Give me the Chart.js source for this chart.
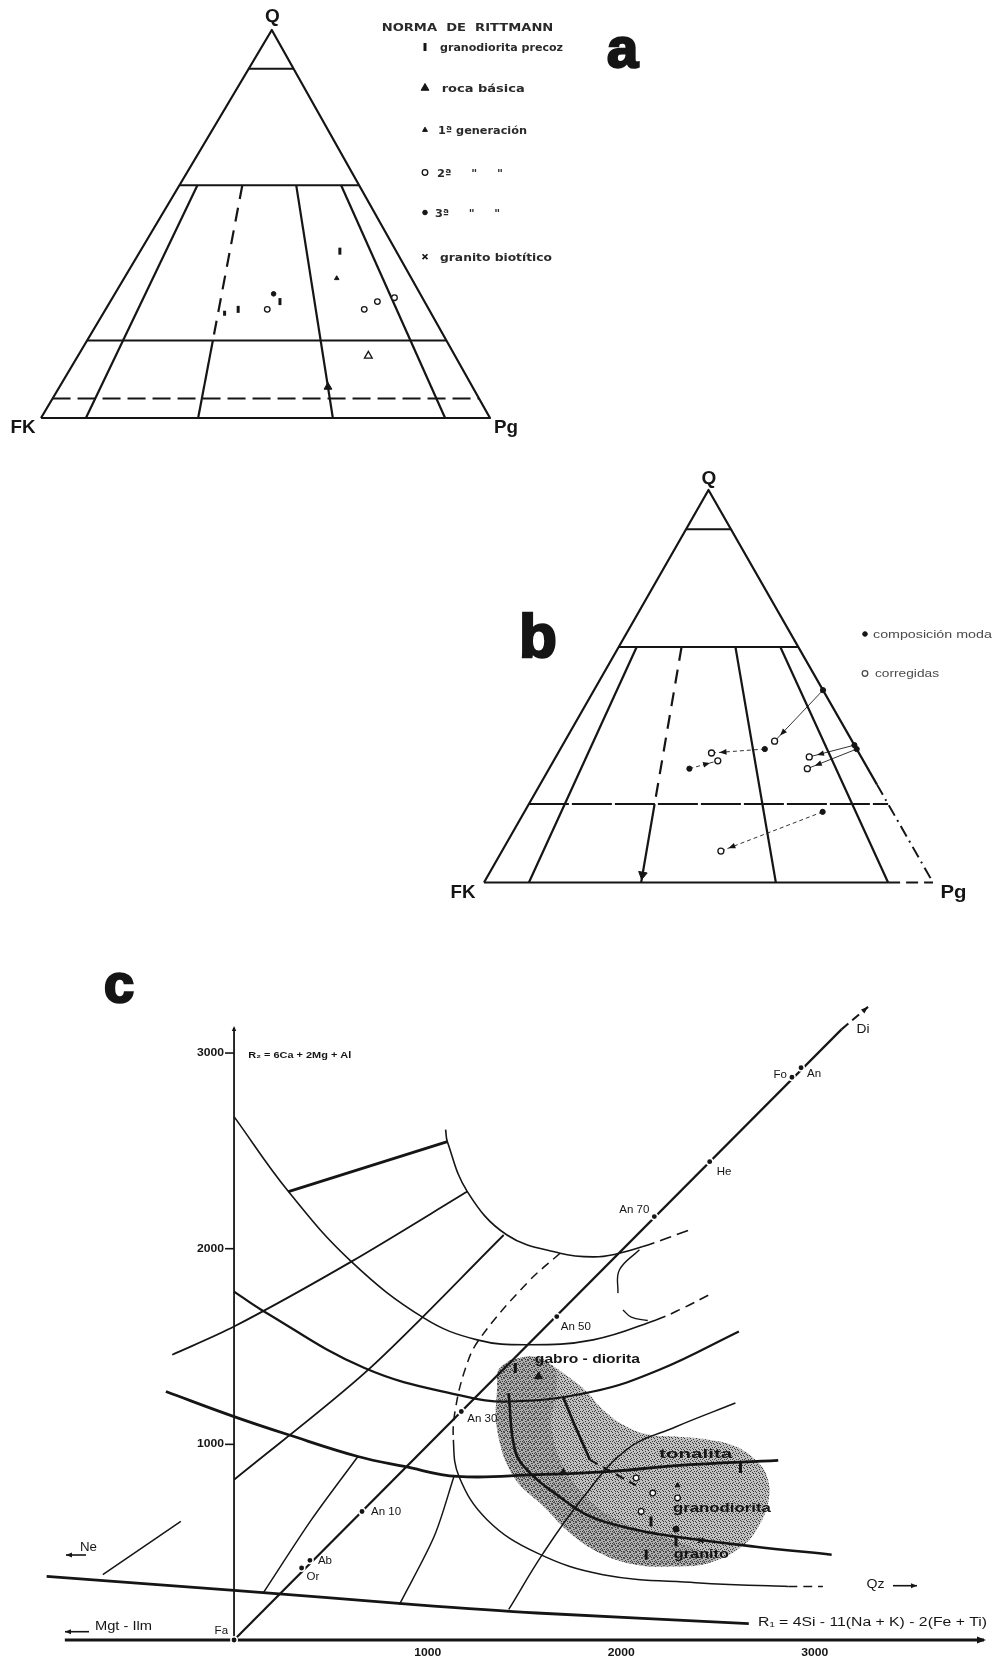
<!DOCTYPE html>
<html lang="es">
<head>
<meta charset="utf-8">
<title>Diagramas Q-FK-Pg y R1-R2</title>
<script src="https://cdn.jsdelivr.net/npm/chart.js@4.4.1/dist/chart.umd.min.js"></script>
<style>
  html, body { margin:0; padding:0; background:#fff; }
  body { position:relative; width:992px; height:1662px; overflow:hidden; }
  canvas { position:absolute; display:block; }
</style>
</head>
<body>
<canvas id="chartA" width="680" height="460" style="left:0;top:0;width:680px;height:460px"></canvas>
<canvas id="chartB" width="572" height="480" style="left:420px;top:440px;width:572px;height:480px"></canvas>
<canvas id="chartC" width="992" height="722" style="left:0;top:940px;width:992px;height:722px"></canvas>
<script>
// ================= DATA =================
// Ternary panels (a, b): every point is [Q %, Pg/(FK+Pg) %]
const qLevels = [90, 60, 20];
const qLevelsDashedA = [5];
const pRatios = [10, 35, 65, 90];
const pRatiosTopQ = 60;
const pRatiosDashedAbove = [35];
const pBreakQ = 20;

const aLegendTitle = 'NORMA  DE  RITTMANN';
const aLegendLabels = ['granodiorita precoz', 'roca básica', '1ª generación', '2ª     "     "', '3ª     "     "', 'granito biotítico'];
const aGranodioritaPrecoz = [[27,37],[28,41],[30,54],[43,78]];
const aRocaBasica = [[8,65]];
const aPrimeraGen = [[36,74],[16,77]];
const aSegundaGen = [[28,50],[28,80],[30,85],[31,91]];
const aTerceraGen = [[32,52]];

const bLegendLabels = ['composición modal', 'corregidas'];
const bComposicion = [[49,100],[34,69],[29,44],[35,100],[34,100],[18,81]];
const bCorregida   = [[36,73],[33,51],[31,53],[32,83],[29,81],[8,53]];

// Panel c: R1 (x) – R2 (y)
const cXTicks = [1000, 2000, 3000];
const cYTicks = [1000, 2000, 3000];
const cFaDiNames = ['Fa','Or','Ab','An 10','An 30','An 50','An 70','He','Fo','An'];
const cFaDiR1 = [0, 349, 392, 661, 1174, 1667, 2171, 2457, 2882, 2929];
const cFaDiR2 = [0, 368, 407, 657, 1168, 1653, 2164, 2445, 2876, 2925];
const cFaDiLine = [[0,0],[3138,3121]];
const cDiArrow = [[3138,3121],[3275,3236]];
const cAxisX = [[-874,0],[3874,0]];
const cAxisY = [[0,0],[0,3128]];
const cCurveA = [[0,2675],[281,2292],[606,1934],[982,1645],[1256,1534],[1513,1509],[1855,1534],[2180,1636],[2308,1691],[2471,1773]];
const cCurveB = [[1093,2608],[1102,2547],[1205,2292],[1410,2070],[1684,1977],[1857,1958],[1975,1973],[2112,2011],[2351,2095]];
const cLineS = [[281,2292],[1102,2547]];
const cLineD = [[-319,1458],[0,1602],[606,1934],[1205,2292]];
const cCurveC = [[0,1781],[142,1687],[674,1390],[1169,1250],[1427,1219],[1855,1270],[2197,1381],[2608,1577]];
const cLineF = [[0,819],[691,1379],[1393,2070]];
const cCurveK = [[-352,1270],[0,1142],[281,1049],[640,938],[880,887],[1153,836],[1564,845],[1950,862],[2283,891],[2811,918]];
const cCurveP = [[1418,1262],[1453,964],[1530,853],[1667,743],[1838,632],[2077,564],[2283,528],[2694,477],[3087,436]];
const cLineT2 = [[1701,1238],[1759,1100],[1838,921]];
const cDashTonalita = [[1838,921],[2077,790]];
const cCurveQ = [[1684,1977],[1513,1824],[1265,1534],[1196,1390],[1143,1177],[1133,1023],[1162,836],[1307,615],[1564,445],[1906,334],[2385,293],[2863,274],[3042,273]];
const cLineM = [[1419,156],[1598,445],[1795,718],[2026,972],[2283,1090],[2590,1211]];
const cLineI1 = [[152,242],[400,615],[640,938]];
const cLineI2 = [[854,181],[1034,530],[1136,836]];
const cLineN = [[-678,334],[-275,606]];
const cLineL0 = [[-968,325],[0,254],[931,181],[1564,138],[2659,84]];
const cHook1 = [[2094,1995],[1990,1890],[1983,1773]];
const cHook2 = [[2009,1687],[2052,1650],[2137,1633]];
const cShade = [[1427,1431],[1547,1449],[1650,1398],[1735,1339],[1821,1270],[1906,1177],[2026,1091],[2146,1049],[2283,1040],[2454,1023],[2591,989],[2693,921],[2753,836],[2762,717],[2710,581],[2625,479],[2454,394],[2283,376],[2077,385],[1889,445],[1735,547],[1598,683],[1444,836],[1359,1075],[1359,1296],[1367,1381],[1427,1431]];
const cShadeDense = [[1427,1431],[1547,1449],[1650,1398],[1667,1300],[1641,1074],[1744,819],[1975,614],[2334,486],[2488,419],[2454,394],[2283,376],[2077,385],[1889,445],[1735,547],[1598,683],[1444,836],[1359,1075],[1359,1296],[1367,1381],[1427,1431]];
const cGranodioritaPrecoz = [[1453,1390],[2154,606],[2283,504],[2129,436],[2616,879]];
const cRocaBasica = [[1573,1347]];
const cPrimeraGen = [[1701,862],[2291,790]];
const cSegundaGen = [[2077,828],[2163,751],[2291,726],[2103,657]];
const cTerceraGen = [[2283,567]];
const cGranitoBiotitico = [[2411,509]];
const cRegionNames = ['gabro - diorita', 'tonalita', 'granodiorita', 'granito'];

// ================= STYLE / HELPERS =================
const INK = '#151515';
const FONT = '"Liberation Sans", Arial, sans-serif';
const COND = '"DejaVu Sans Condensed", "DejaVu Sans", sans-serif';
const A_AX = 0.514, B_AX = 0.5;

const MK = {
  granodiorita: {pointStyle:'line', rotation:90, pointRadius:4, pointBorderWidth:3, pointBorderColor:INK, pointBackgroundColor:INK},
  basica:       {pointStyle:'triangle', rotation:0, pointRadius:4.5, pointBorderWidth:1, pointBorderColor:INK, pointBackgroundColor:INK},
  gen1:         {pointStyle:'triangle', rotation:0, pointRadius:2.8, pointBorderWidth:1, pointBorderColor:INK, pointBackgroundColor:INK},
  gen2:         {pointStyle:'circle', rotation:0, pointRadius:2.8, pointBorderWidth:1.3, pointBorderColor:INK, pointBackgroundColor:'#fff'},
  gen3:         {pointStyle:'circle', rotation:0, pointRadius:2.3, pointBorderWidth:1, pointBorderColor:INK, pointBackgroundColor:INK},
  granito:      {pointStyle:'crossRot', rotation:0, pointRadius:3.5, pointBorderWidth:1.6, pointBorderColor:INK, pointBackgroundColor:INK}
};
const aLegendMarkers = [MK.granodiorita, MK.basica, MK.gen1, MK.gen2, MK.gen3, MK.granito];

function tern(ax) { return ([q, p]) => ({x: (1 - q/100) * (p/100) + (q/100) * ax, y: q/100}); }
const XY = ([a, b]) => ({x: a, y: b});

function lineDS(points, conv, w, extra) {
  return Object.assign({data: points.map(conv), showLine:true, fill:false, pointRadius:0, pointHoverRadius:0,
    borderColor:INK, borderWidth:w, clip:false, order:5, borderCapStyle:'butt', borderJoinStyle:'round'}, extra || {});
}
function markDS(points, conv, style, extra) {
  return Object.assign({data: points.map(conv), showLine:false, pointHoverRadius:0, clip:false, order:1}, style, extra || {});
}
function dashSegs(idx, pattern) {
  return {segment: {borderDash: c => idx.includes(c.p0DataIndex) ? pattern : undefined}};
}
function fitText(ctx, text, x, y, w, align) {
  const m = ctx.measureText(text).width;
  const s = w ? w / m : 1;
  ctx.save(); ctx.translate(x, y); ctx.scale(s, 1); ctx.textAlign = 'left';
  let ox = 0; if (align === 'center') ox = -m/2; else if (align === 'right') ox = -m;
  ctx.fillText(text, ox, 0); ctx.restore();
}
function drawMarker(ctx, st, x, y) {
  ctx.save();
  ctx.fillStyle = st.pointBackgroundColor; ctx.strokeStyle = st.pointBorderColor; ctx.lineWidth = st.pointBorderWidth;
  Chart.helpers.drawPoint(ctx, {pointStyle: st.pointStyle, rotation: st.rotation || 0, radius: st.pointRadius, borderWidth: st.pointBorderWidth}, x, y);
  ctx.restore();
}
function arrowHead(ctx, x0, y0, x1, y1, len, half) {
  const dx = x1 - x0, dy = y1 - y0, L = Math.hypot(dx, dy) || 1, ux = dx/L, uy = dy/L;
  ctx.beginPath(); ctx.moveTo(x1, y1);
  ctx.lineTo(x1 - ux*len - uy*half, y1 - uy*len + ux*half);
  ctx.lineTo(x1 - ux*len + uy*half, y1 - uy*len - ux*half);
  ctx.closePath(); ctx.fill();
}
function baseOptions(pad, xr, yr) {
  return {
    responsive:false, maintainAspectRatio:false, animation:false, devicePixelRatio:1, events:[],
    layout:{padding:pad},
    plugins:{legend:{display:false}, tooltip:{enabled:false}, title:{display:false}},
    scales:{
      x:{type:'linear', min:xr[0], max:xr[1], display:false},
      y:{type:'linear', min:yr[0], max:yr[1], display:false}
    }
  };
}

// ---------- ternary frame ----------
function ternaryFrame(ax, variant) {
  const T = tern(ax), ds = [];
  if (variant === 'a') {
    ds.push(lineDS([[0,0],[100,0],[0,100],[0,0]], T, 2.2));
    qLevelsDashedA.forEach(q => ds.push(lineDS([[q,0],[q,100]], T, 2, {borderDash:[18,7]})));
  } else {
    ds.push(lineDS([[0,0],[100,0],[25,100]], T, 2.2));
    ds.push(lineDS([[25,100],[0,100]], T, 2, {borderDash:[12,5,2,5]}));
    ds.push(lineDS([[0,0],[0,90]], T, 2.2));
    ds.push(lineDS([[0,90],[0,100]], T, 2, {borderDash:[12,6]}));
  }
  qLevels.forEach(q => ds.push(lineDS([[q,0],[q,100]], T, 2, (variant === 'b' && q === pBreakQ) ? {borderDash:[40,3]} : {})));
  pRatios.forEach(p => {
    if (pRatiosDashedAbove.includes(p)) {
      ds.push(lineDS([[pRatiosTopQ,p],[pBreakQ,p]], T, 2.2, {borderDash:[14,9]}));
      ds.push(lineDS([[pBreakQ,p],[0,p]], T, 2.2));
      if (variant === 'b') ds.push(markDS([[2,p]], T, {pointStyle:'triangle', rotation:190, pointRadius:5, pointBackgroundColor:INK, pointBorderColor:INK, pointBorderWidth:1}));
    } else {
      ds.push(lineDS([[pRatiosTopQ,p],[0,p]], T, 2.2));
    }
  });
  return ds;
}

// ================= PANEL A =================
(function () {
  const T = tern(A_AX);
  const datasets = ternaryFrame(A_AX, 'a').concat([
    markDS(aGranodioritaPrecoz, T, MK.granodiorita, {pointRadius:[2.5,3.5,3.5,3.5]}),
    markDS(aRocaBasica, T, MK.basica),
    markDS(aPrimeraGen, T, MK.gen1, {pointRadius:[2.6,4.5], pointBackgroundColor:[INK,'#fff'], pointBorderWidth:[1,1.3]}),
    markDS(aSegundaGen, T, MK.gen2),
    markDS(aTerceraGen, T, MK.gen3)
  ]);
  const plugA = {id:'plugA', afterDatasetsDraw(chart) {
    const ctx = chart.ctx; ctx.save(); ctx.fillStyle = INK;
    ctx.textBaseline = 'alphabetic'; ctx.font = `bold 19px ${FONT}`;
    fitText(ctx, 'Q', 272.5, 22, null, 'center');
    fitText(ctx, 'FK', 23, 433, 25, 'center');
    fitText(ctx, 'Pg', 506, 433, 24, 'center');
    ctx.font = `bold 56px ${FONT}`; ctx.lineWidth = 2.5; ctx.strokeStyle = INK;
    ctx.fillText('a', 607, 67); ctx.strokeText('a', 607, 67);
    ctx.textBaseline = 'middle'; ctx.fillStyle = '#2a2a2a';
    ctx.font = `bold 10px ${COND}`;
    fitText(ctx, aLegendTitle, 381.7, 28.5, 171.6);
    const rows = [47, 88, 130, 172.5, 212.5, 256.7];
    const tx = [440, 441.7, 438, 437, 435, 440];
    const tw = [123, 83, 89, 66, 65, 112];
    aLegendLabels.forEach((t, i) => fitText(ctx, t, tx[i], rows[i] + 1.5, tw[i]));
    aLegendMarkers.forEach((st, i) => drawMarker(ctx, st, 425, rows[i]));
    ctx.restore();
  }};
  new Chart(document.getElementById('chartA'), {
    type:'scatter', data:{datasets},
    options: baseOptions({left:41, right:190, top:30, bottom:42}, [0,1], [0,1]),
    plugins:[plugA]
  });
})();

// ================= PANEL B =================
(function () {
  const T = tern(B_AX);
  const shafts = bComposicion.map((c, i) => lineDS([c, bCorregida[i]], T, 1, {borderColor:'#333', borderDash: (i === 0 || i === 3 || i === 4) ? [] : [4,3]}));
  const datasets = ternaryFrame(B_AX, 'b').concat(shafts, [
    markDS(bComposicion, T, MK.gen3, {pointRadius:2.6}),
    markDS(bCorregida, T, MK.gen2, {pointRadius:3, order:0})
  ]);
  const plugB = {id:'plugB', afterDatasetsDraw(chart) {
    const ctx = chart.ctx, xs = chart.scales.x, ys = chart.scales.y;
    ctx.save(); ctx.fillStyle = INK;
    bComposicion.forEach((c, i) => {
      const a = T(c), b = T(bCorregida[i]);
      const x0 = xs.getPixelForValue(a.x), y0 = ys.getPixelForValue(a.y);
      const x1 = xs.getPixelForValue(b.x), y1 = ys.getPixelForValue(b.y);
      const L = Math.hypot(x1 - x0, y1 - y0), ux = (x1 - x0)/L, uy = (y1 - y0)/L;
      arrowHead(ctx, x0, y0, x1 - ux*8, y1 - uy*8, 7, 2.8);
    });
    ctx.textBaseline = 'alphabetic'; ctx.font = `bold 19px ${FONT}`;
    fitText(ctx, 'Q', 289, 43.5, null, 'center');
    fitText(ctx, 'FK', 43, 458, 25, 'center');
    fitText(ctx, 'Pg', 533.5, 458, 26, 'center');
    ctx.font = `bold 62px ${FONT}`; ctx.lineWidth = 2.5; ctx.strokeStyle = INK;
    ctx.fillText('b', 99, 217); ctx.strokeText('b', 99, 217);
    ctx.textBaseline = 'middle'; ctx.fillStyle = '#4a4a4a'; ctx.font = `11px ${FONT}`;
    fitText(ctx, bLegendLabels[0], 453, 195, 122);
    fitText(ctx, bLegendLabels[1], 455, 234, 64);
    drawMarker(ctx, MK.gen3, 445, 194);
    drawMarker(ctx, Object.assign({}, MK.gen2, {pointBorderColor:'#4a4a4a'}), 445, 233.5);
    ctx.restore();
  }};
  new Chart(document.getElementById('chartB'), {
    type:'scatter', data:{datasets},
    options: baseOptions({left:64, right:59, top:50, bottom:37.5}, [0,1], [0,1]),
    plugins:[plugB]
  });
})();

// ================= PANEL C =================
(function () {
  const canvas = document.getElementById('chartC');
  const mkPattern = (base, dark, dots) => {
    const tile = document.createElement('canvas'); tile.width = 6; tile.height = 6;
    const g = tile.getContext('2d');
    g.fillStyle = base; g.fillRect(0, 0, 6, 6);
    g.fillStyle = dark; dots.forEach(([i, j]) => g.fillRect(i, j, 1, 1));
    return canvas.getContext('2d').createPattern(tile, 'repeat');
  };
  const stipple = mkPattern('rgba(140,140,140,0.55)', 'rgba(35,35,35,0.85)', [[0,0],[3,1],[1,2],[4,3],[2,4],[5,5],[0,3],[3,5]]);
  const hatch = mkPattern('rgba(80,80,80,0.15)', 'rgba(20,20,20,0.5)', [[0,5],[1,4],[2,3],[4,1],[5,0],[3,5]]);

  const faDiPts = cFaDiR1.map((r, i) => [r, cFaDiR2[i]]);
  const datasets = [
    {data: cShade.map(XY), showLine:true, fill:'shape', backgroundColor:stipple, borderColor:'rgba(0,0,0,0)', borderWidth:0, pointRadius:0, tension:0.4, clip:false, order:20},
    {data: cShadeDense.map(XY), showLine:true, fill:'shape', backgroundColor:hatch, borderColor:'rgba(0,0,0,0)', borderWidth:0, pointRadius:0, tension:0.4, clip:false, order:19},
    lineDS(cAxisX, XY, 3),
    lineDS(cAxisY, XY, 1.8),
    lineDS(cLineL0, XY, 2.8, {tension:0.3}),
    lineDS(cFaDiLine, XY, 2.2),
    lineDS(cDiArrow, XY, 2, {borderDash:[9,5]}),
    lineDS(cCurveA, XY, 1.6, Object.assign({tension:0.4}, dashSegs([7,8], [10,6]))),
    lineDS(cCurveB, XY, 1.6, Object.assign({tension:0.4}, dashSegs([7], [12,6]))),
    lineDS(cLineS, XY, 2.8),
    lineDS(cLineD, XY, 1.8, {tension:0.3}),
    lineDS(cCurveC, XY, 2.2, {tension:0.4}),
    lineDS(cLineF, XY, 1.8, {tension:0.3}),
    lineDS(cCurveK, XY, 2.8, {tension:0.4}),
    lineDS(cCurveP, XY, 2.6, {tension:0.4}),
    lineDS(cLineT2, XY, 2.6, {tension:0.3}),
    lineDS(cDashTonalita, XY, 2, {borderDash:[9,6]}),
    lineDS(cCurveQ, XY, 1.5, Object.assign({tension:0.4}, dashSegs([0,1,2,3,4,11], [9,6]))),
    lineDS(cLineM, XY, 1.5, {tension:0.4}),
    lineDS(cLineI1, XY, 1.5, {tension:0.3}),
    lineDS(cLineI2, XY, 1.5, {tension:0.3}),
    lineDS(cLineN, XY, 1.5),
    lineDS(cHook1, XY, 1.4, {tension:0.4}),
    lineDS(cHook2, XY, 1.4, {tension:0.4}),
    markDS(faDiPts, XY, {pointStyle:'circle', pointRadius:3.2, pointBackgroundColor:INK, pointBorderColor:'#fff', pointBorderWidth:1.5}),
    markDS(cGranodioritaPrecoz, XY, MK.granodiorita, {pointRadius:5}),
    markDS(cRocaBasica, XY, MK.basica),
    markDS(cPrimeraGen, XY, MK.gen1),
    markDS(cSegundaGen, XY, MK.gen2),
    markDS(cTerceraGen, XY, MK.gen3, {pointRadius:3}),
    markDS(cGranitoBiotitico, XY, MK.granito)
  ];
  const faDiOffsets = [[-6,-9,'right'],[5,9,'left'],[8,0,'left'],[9,0,'left'],[6,7,'left'],[4,10,'left'],[-5,-7,'right'],[7,10,'left'],[-5,-2,'right'],[6,6,'left']];
  const regionPos = [[1554,1431,105],[2196,947,73],[2267,671,98],[2272,436,55]];
  const plugC = {id:'plugC', afterDatasetsDraw(chart) {
    const ctx = chart.ctx, xs = chart.scales.x, ys = chart.scales.y;
    const X = v => xs.getPixelForValue(v), Y = v => ys.getPixelForValue(v);
    ctx.save(); ctx.fillStyle = INK; ctx.strokeStyle = INK;
    ctx.lineWidth = 1.6; ctx.textBaseline = 'middle'; ctx.font = `bold 11px ${FONT}`;
    cYTicks.forEach(t => {
      const py = Y(t);
      ctx.beginPath(); ctx.moveTo(X(0) - 9, py); ctx.lineTo(X(0), py); ctx.stroke();
      fitText(ctx, String(t), X(0) - 10, py, 27, 'right');
    });
    cXTicks.forEach(t => fitText(ctx, String(t), X(t), Y(0) + 13, 27, 'center'));
    arrowHead(ctx, X(cAxisX[0][0]), Y(0), X(cAxisX[1][0]) + 2, Y(0), 9, 3.5);
    arrowHead(ctx, X(0), Y(0), X(0), Y(cAxisY[1][1]) - 2, 5, 2.2);
    arrowHead(ctx, X(cDiArrow[0][0]), Y(cDiArrow[0][1]), X(cDiArrow[1][0]), Y(cDiArrow[1][1]), 7, 2.6);
    ctx.font = `11.5px ${FONT}`;
    cFaDiNames.forEach((n, i) => {
      const o = faDiOffsets[i];
      fitText(ctx, n, X(cFaDiR1[i]) + o[0], Y(cFaDiR2[i]) + o[1], null, o[2]);
    });
    ctx.font = `bold 12.5px ${FONT}`;
    cRegionNames.forEach((n, i) => fitText(ctx, n, X(regionPos[i][0]), Y(regionPos[i][1]), regionPos[i][2]));
    ctx.font = `bold 9.5px ${FONT}`;
    fitText(ctx, 'R₂ = 6Ca + 2Mg + Al', 248.3, 115, 103);
    ctx.font = `12px ${FONT}`;
    fitText(ctx, 'R₁ = 4Si - 11(Na + K) - 2(Fe + Ti)', 758, 683, 229);
    fitText(ctx, 'Di', 856.5, 90, 13);
    fitText(ctx, 'Qz', 866.5, 645, 18);
    fitText(ctx, 'Ne', 80, 607.5, 17);
    fitText(ctx, 'Mgt - Ilm', 95, 686.5, 57);
    ctx.lineWidth = 1.6;
    const arr = (x0, y0, x1, y1) => { ctx.beginPath(); ctx.moveTo(x0, y0); ctx.lineTo(x1, y1); ctx.stroke(); arrowHead(ctx, x0, y0, x1, y1, 6, 2.5); };
    arr(893, 645.7, 917, 645.7);
    arr(86, 615, 66, 615);
    arr(89, 691.7, 65, 691.7);
    ctx.textBaseline = 'alphabetic'; ctx.font = `bold 54px ${FONT}`; ctx.lineWidth = 2.5;
    ctx.fillText('c', 104, 62); ctx.strokeText('c', 104, 62);
    ctx.restore();
  }};
  new Chart(canvas, {
    type:'scatter', data:{datasets},
    options: baseOptions({left:48, right:2, top:88, bottom:22}, [-961, 3874], [0, 3128]),
    plugins:[plugC]
  });
})();
</script>
</body>
</html>
